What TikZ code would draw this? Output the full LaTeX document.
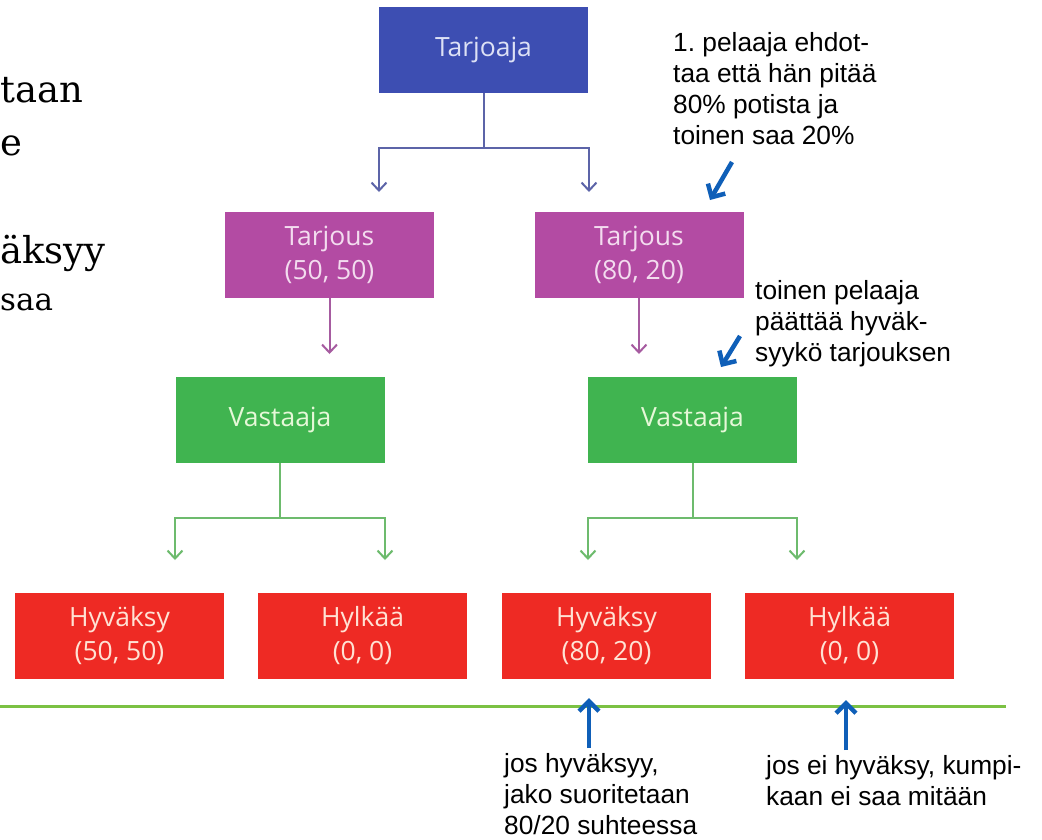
\documentclass[tikz,border=0pt]{standalone}
\usepackage{fontspec}
\usetikzlibrary{arrows.meta}
\newfontfamily\boxfont{Open Sans}
\newfontfamily\notefont{Liberation Sans}
\newfontfamily\sidefont{DejaVu Serif}
\frenchspacing
\definecolor{cTop}{HTML}{3D4EB2}
\definecolor{cTopTxt}{HTML}{DDE1F5}
\definecolor{cTopLine}{HTML}{5C64A8}
\definecolor{cOffer}{HTML}{B34BA3}
\definecolor{cOfferTxt}{HTML}{F3DCEF}
\definecolor{cOfferLine}{HTML}{A65BA0}
\definecolor{cResp}{HTML}{40B450}
\definecolor{cRespTxt}{HTML}{E6F8D8}
\definecolor{cRespLine}{HTML}{6DBB6D}
\definecolor{cLeaf}{HTML}{EE2A24}
\definecolor{cLeafTxt}{HTML}{FFE2D4}
\definecolor{cSep}{HTML}{7BC143}
\definecolor{cNote}{HTML}{0F5FB8}
\begin{document}
\begin{tikzpicture}[x=1pt,y=-1pt,
  basebox/.style={minimum width=209pt, minimum height=86pt, inner sep=0pt,
    align=center, font={\boxfont\fontsize{26.5}{34}\selectfont}},
  topbox/.style={basebox, fill=cTop, text=cTopTxt},
  offerbox/.style={basebox, fill=cOffer, text=cOfferTxt},
  respbox/.style={basebox, fill=cResp, text=cRespTxt},
  leafbox/.style={basebox, fill=cLeaf, text=cLeafTxt},
  tiparrow/.style={-{Straight Barb[length=8pt,width=15pt]}, line width=2pt},
  topline/.style={tiparrow, draw=cTopLine},
  offerline/.style={tiparrow, draw=cOfferLine},
  respline/.style={tiparrow, draw=cRespLine},
  notearrow/.style={-{Straight Barb[length=10pt,width=20pt,line width=4.5pt]}, line width=4.5pt, draw=cNote},
  notetext/.style={font={\notefont\fontsize{26.3}{31}\selectfont}, align=left, inner sep=0pt, text=black, anchor=north west},
  sidetext/.style={font={\sidefont\fontsize{37}{44}\selectfont}, inner sep=0pt, text=black, anchor=base west},
  sidesmall/.style={font={\sidefont\fontsize{31}{37}\selectfont}, inner sep=0pt, text=black, anchor=base west}
]
\useasboundingbox[fill=white] (0,0) rectangle (1042,839);

% cropped slide text at the left edge
\node[sidetext] (s1) at (0,102) {taan};
\node[sidetext] (s2) at (0,155) {e};
\node[sidetext] (s3) at (0,263) {äksyy};
\node[sidesmall] (s4) at (0,310) {saa};

% tree boxes
\node[topbox] (tj) at (483.5,50) {Tarjoaja};
\node[offerbox] (t1) at (329.5,255) {Tarjous\\(50, 50)};
\node[offerbox] (t2) at (639,255) {Tarjous\\(80, 20)};
\node[respbox] (v1) at (280,420) {Vastaaja};
\node[respbox] (v2) at (692.5,420) {Vastaaja};
\node[leafbox] (l1) at (119.5,636) {Hyväksy\\(50, 50)};
\node[leafbox] (l2) at (362.5,636) {Hylkää\\(0, 0)};
\node[leafbox] (l3) at (606.5,636) {Hyväksy\\(80, 20)};
\node[leafbox] (l4) at (849.5,636) {Hylkää\\(0, 0)};

% connector ends
\coordinate (ta) at (379,192);
\coordinate (tb) at (589,192);
\coordinate (pa) at (329.5,354);
\coordinate (pb) at (639,354);
\coordinate (ga) at (175,560);
\coordinate (gb) at (385,560);
\coordinate (gc) at (588,560);
\coordinate (gd) at (797,560);

\draw[topline] (tj.south) -- ++(0,55) coordinate (tjm) -| (ta);
\draw[topline] (tjm) -| (tb);
\draw[offerline] (t1.south) -- (pa);
\draw[offerline] (t2.south) -- (pb);
\draw[respline] (v1.south) -- ++(0,55) coordinate (v1m) -| (ga);
\draw[respline] (v1m) -| (gb);
\draw[respline] (v2.south) -- ++(0,55) coordinate (v2m) -| (gc);
\draw[respline] (v2m) -| (gd);

% separator line
\coordinate (sepL) at (0,706);
\coordinate (sepR) at (1006,706);
\draw[draw=cSep, line width=3pt] (sepL) -- (sepR);

% annotations
\node[notetext] (n1) at (673,32) {1. pelaaja ehdot-\\taa että hän pitää\\80\% potista ja\\toinen saa 20\%};
\node[notetext] (n2) at (755,280) {toinen pelaaja\\päättää hyväk-\\syykö tarjouksen};
\node[notetext] (n3) at (504,753) {jos hyväksyy,\\jako suoritetaan\\80/20 suhteessa};
\node[notetext] (n4) at (766,755) {jos ei hyväksy, kumpi-\\kaan ei saa mitään};

\coordinate (a1s) at (732,162);
\coordinate (a1e) at (710,200);
\coordinate (a2s) at (740,336);
\coordinate (a2e) at (721,367);
\coordinate (a3s) at (589,748);
\coordinate (a3e) at (589,698);
\coordinate (a4s) at (846,750);
\coordinate (a4e) at (846,700);
\draw[notearrow] (a1s) -- (a1e);
\draw[notearrow] (a2s) -- (a2e);
\draw[notearrow] (a3s) -- (a3e);
\draw[notearrow] (a4s) -- (a4e);
\end{tikzpicture}
\end{document}
